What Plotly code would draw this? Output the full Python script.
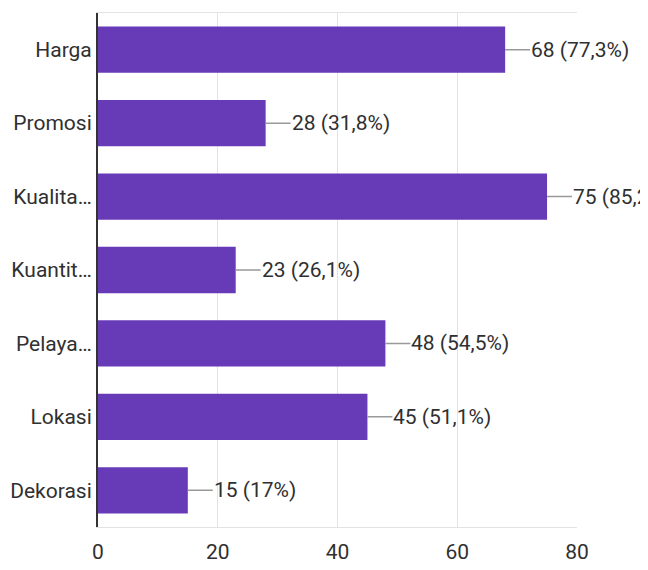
import plotly.graph_objects as go

categories = ["Harga", "Promosi", "Kualita…", "Kuantit…", "Pelaya…", "Lokasi", "Dekorasi"]
values = [68, 28, 75, 23, 48, 45, 15]
value_labels = ["68 (77,3%)", "28 (31,8%)", "75 (85,2%)", "23 (26,1%)", "48 (54,5%)", "45 (51,1%)", "15 (17%)"]
x_ticks = [0, 20, 40, 60, 80]

FONT = "Roboto, Arial, sans-serif"
FS = 21
TEXT = "#303030"

fig = go.Figure()
fig.add_trace(go.Bar(
    y=categories, x=values, orientation="h",
    marker=dict(color="#673ab7", line=dict(width=0)),
    hoverinfo="skip",
))

for c, v, t in zip(categories, values, value_labels):
    fig.add_annotation(
        x=v, y=c, xref="x", yref="y", text=t,
        showarrow=True, arrowhead=0, arrowwidth=1.5, arrowcolor="#999999",
        axref="pixel", ayref="pixel", ax=25, ay=0, xanchor="left",
        font=dict(family=FONT, size=FS, color=TEXT),
        borderpad=0, standoff=0, startstandoff=0,
    )

fig.update_layout(
    width=640, height=562,
    margin=dict(l=90, r=71, t=5, b=43, autoexpand=False),
    paper_bgcolor="white", plot_bgcolor="white",
    showlegend=False, bargap=0.37,
    font=dict(family=FONT, size=FS, color=TEXT),
)
fig.update_xaxes(
    range=[0, 80], tickvals=x_ticks, ticks="", ticklabelstandoff=6, automargin=False,
    showgrid=True, gridcolor="#e3e3e3", gridwidth=1,
    showline=True, linecolor="#e3e3e3", mirror=True, zeroline=False,
    tickfont=dict(family=FONT, size=FS, color=TEXT),
)
fig.update_yaxes(
    categoryorder="array", categoryarray=categories, autorange="reversed", automargin=False,
    showline=True, linecolor="#333333", linewidth=2, ticks="", ticklabelstandoff=0,
    tickfont=dict(family=FONT, size=FS, color=TEXT),
)

fig.write_html("out.html")
